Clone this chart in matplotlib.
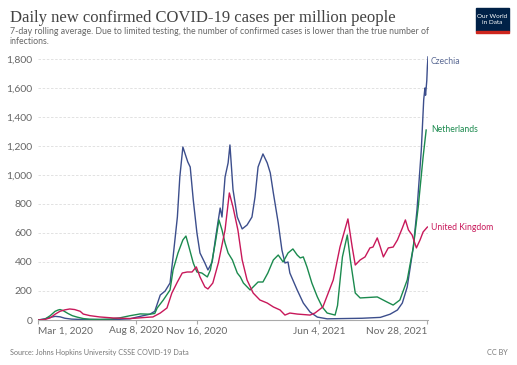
import datetime as dt

import matplotlib.pyplot as plt
import matplotlib.dates as mdates
from matplotlib.patches import Rectangle

plt.rcParams["font.family"] = ["Lato", "DejaVu Sans"]

START = dt.date(2020, 3, 1)

# days since Mar 1, 2020 and 7-day average cases per million
cz_day = [0, 11, 20, 28, 36, 44, 55, 70, 100, 130, 150, 167, 183, 191, 200, 208,
          216, 221, 228, 232, 237, 245, 249, 254, 260, 265, 273, 278, 285, 290,
          295, 298, 301, 306, 311, 314, 319, 326, 334, 342, 350, 355, 360, 368,
          375, 380, 385, 393, 399, 404, 409, 412, 424, 434, 445, 457, 473, 500,
          530, 560, 576, 588, 596, 604, 614, 620, 627, 631, 633, 634, 636, 637,
          638]
cz_val = [0, 8, 18, 25, 22, 12, 6, 4, 3, 4, 8, 25, 40, 60, 172, 200,
          255, 435, 710, 986, 1193, 1090, 1055, 828, 600, 462, 393, 345, 400, 552,
          690, 772, 710, 986, 1083, 1207, 900, 710, 628, 655, 710, 848, 1055, 1145,
          1083, 1014, 876, 669, 483, 393, 400, 324, 207, 117, 55, 20, 8, 10,
          12, 18, 40, 69, 117, 228, 503, 760, 1170, 1520, 1600, 1550, 1650, 1750,
          1814]

nl_day = [0, 11, 20, 28, 33, 36, 41, 49, 56, 64, 74, 85, 101, 118, 134, 151,
          162, 167, 183, 191, 195, 205, 216, 221, 229, 237, 242, 247, 254, 260,
          268, 277, 282, 290, 296, 301, 306, 311, 318, 326, 331, 336, 347, 352,
          360, 368, 376, 385, 393, 401, 409, 417, 424, 429, 434, 440, 448, 457,
          465, 473, 486, 490, 498, 506, 511, 519, 527, 555, 571, 581, 592, 604,
          614, 622, 630, 635]
nl_val = [0, 5, 30, 60, 69, 72, 65, 45, 30, 20, 10, 5, 4, 6, 15, 30,
          38, 42, 40, 45, 83, 138, 207, 345, 462, 552, 579, 503, 393, 331,
          324, 297, 345, 531, 690, 621, 531, 462, 414, 324, 297, 255, 207, 228,
          262, 262, 324, 414, 448, 400, 462, 490, 448, 428, 435, 366, 255, 159,
          90, 48, 34, 100, 435, 586, 414, 186, 152, 159, 124, 103, 138, 276,
          503, 779, 1124, 1310]

uk_day = [0, 11, 20, 28, 36, 44, 52, 60, 69, 74, 85, 101, 123, 151, 167, 183,
          188, 200, 211, 219, 228, 236, 244, 252, 259, 265, 273, 278, 286, 295,
          301, 306, 313, 319, 327, 334, 342, 352, 363, 375, 385, 396, 404, 412,
          424, 445, 453, 466, 483, 494, 507, 514, 519, 527, 535, 543, 548, 555,
          560, 565, 573, 581, 588, 596, 601, 606, 612, 619, 625, 630, 637]
uk_val = [0, 3, 15, 40, 60, 70, 76, 72, 60, 41, 30, 21, 14, 10, 15, 20,
          21, 48, 83, 186, 262, 324, 331, 331, 366, 297, 228, 214, 255, 393,
          517, 621, 876, 779, 621, 414, 276, 186, 138, 117, 90, 69, 34, 48,
          41, 34, 48, 90, 276, 503, 697, 503, 379, 414, 435, 497, 503, 566,
          503, 435, 497, 503, 552, 634, 690, 621, 586, 497, 552, 607, 641]

series = [
    ("Czechia", cz_day, cz_val, "#3c4e8c", "#5b6a94", 61),
    ("Netherlands", nl_day, nl_val, "#1b8a4e", "#1b8a4e", 130),
    ("United Kingdom", uk_day, uk_val, "#c8185a", "#c8185a", 228),
]

tick_dates = [dt.date(2020, 3, 1), dt.date(2020, 8, 8), dt.date(2020, 11, 16),
              dt.date(2021, 6, 4), dt.date(2021, 11, 28)]
y_ticks = [0, 200, 400, 600, 800, 1000, 1200, 1400, 1600, 1800]


def to_dates(days):
    return [START + dt.timedelta(days=d) for d in days]


fig = plt.figure(figsize=(5.17, 3.65), dpi=100)
ax = fig.add_axes([38 / 517, 1 - 320 / 365, 390 / 517, 265.4 / 365])

for name, days, vals, color, label_color, label_y in series:
    ax.plot(to_dates(days), vals, color=color, linewidth=1.0)
    fig.text(431 / 517, 1 - label_y / 365, name, color=label_color,
             fontsize=6.2, va="center", ha="left")

ax.set_xlim(START, START + dt.timedelta(days=638))
ax.set_ylim(0, 1830)
ax.set_yticks(y_ticks)
ax.set_yticklabels([f"{v:,}" for v in y_ticks])
ax.yaxis.grid(True, color="#dddddd", linestyle=(0, (3, 2)), linewidth=0.6)
ax.set_axisbelow(True)
ax.tick_params(axis="y", length=0, labelsize=7.5, labelcolor="#666666", pad=4)

ax.set_xticks(tick_dates)
ax.xaxis.set_major_formatter(mdates.DateFormatter("%b %-d, %Y"))
ax.tick_params(axis="x", length=3, color="#aaaaaa", labelsize=7.3,
               labelcolor="#666666", pad=1.5)
labels = ax.get_xticklabels()
labels[0].set_ha("left")
labels[-1].set_ha("right")

for side in ["top", "right", "left"]:
    ax.spines[side].set_visible(False)
ax.spines["bottom"].set_color("#aaaaaa")
ax.spines["bottom"].set_linewidth(0.8)

fig.text(10 / 517, 1 - 22 / 365, "Daily new confirmed COVID-19 cases per million people",
         family="Liberation Serif", fontsize=12, color="#444444")
fig.text(10 / 517, 1 - 44 / 365,
         "7-day rolling average. Due to limited testing, the number of confirmed cases is lower than the true number of\ninfections.",
         fontsize=6.3, color="#666666", linespacing=1.2)
fig.text(10 / 517, 1 - 355 / 365, "Source: Johns Hopkins University CSSE COVID-19 Data",
         fontsize=5.2, color="#777777")
fig.text(508 / 517, 1 - 355 / 365, "CC BY", fontsize=5.2, color="#777777", ha="right")

# logo
fig.patches.append(Rectangle((476 / 517, 1 - 31 / 365), 33 / 517, 23 / 365,
                             transform=fig.transFigure, color="#002147"))
fig.patches.append(Rectangle((476 / 517, 1 - 33 / 365), 33 / 517, 2 / 365,
                             transform=fig.transFigure, color="#ce261e"))
fig.text(492.5 / 517, 1 - 19.5 / 365, "Our World\nin Data", color="white",
         fontsize=4.6, ha="center", va="center", linespacing=1.0)

fig.savefig("out.png", dpi=100)
